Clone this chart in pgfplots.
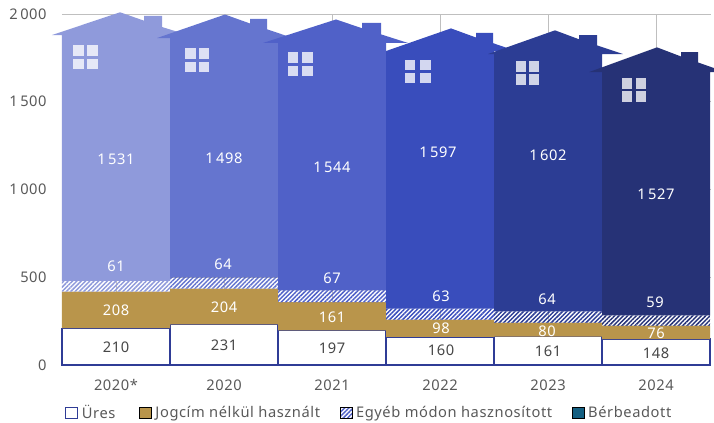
\documentclass[border=0pt]{standalone}
\usepackage{fontspec}
\setmainfont[LetterSpace=4]{Noto Sans}
\usepackage{pgfplots}
\pgfplotsset{compat=1.18}
\usetikzlibrary{patterns.meta}
\definecolor{h1}{HTML}{8F9ADB}
\definecolor{h2}{HTML}{6575CF}
\definecolor{h3}{HTML}{5061C8}
\definecolor{h4}{HTML}{394DBC}
\definecolor{h5}{HTML}{2C3D94}
\definecolor{h6}{HTML}{263276}
\definecolor{gold}{HTML}{B9954B}
\definecolor{navy}{HTML}{2F3C96}
\definecolor{teal}{HTML}{156082}
\definecolor{txt}{HTML}{595959}
\definecolor{grid}{HTML}{D9D9D9}
\newcommand{\lblfont}{\fontsize{11}{13}\selectfont}
\pgfplotsset{
  hatchbar/.style={ybar, bar shift=0pt, bar width=108, stack plots=y, forget plot, draw=none,
    pattern={Lines[angle=45,distance=2.3pt,line width=1.1pt]}, pattern color=#1},
  house/.style={fill=#1, draw=none, forget plot},
  panes/.style={only marks, mark=square*, mark size=3.9pt, forget plot,
    mark options={draw opacity=0, fill=white, fill opacity=0.78}},
  lbl/.style={draw=none, mark=none, forget plot, point meta=explicit symbolic, nodes near coords,
    nodes near coords style={anchor=center, inner sep=0pt, text=#1, font=\lblfont}},
  sq/.style={legend image code/.code={\draw[##1] (0pt,-4.3pt) rectangle (8.6pt,4.3pt);}},
}
\begin{document}
\begin{tikzpicture}
\path[use as bounding box] (-46.5pt,-43.5pt) rectangle (489pt,273.75pt);
\begin{axis}[
  at={(0,0)}, anchor=south west,
  x=0.75pt, y=0.131625pt, clip=false,
  xmin=62, xmax=711, ymin=0, ymax=2000,
  xtick={116,224,332,440,548,656},
  xticklabels={2020*,2020,2021,2022,2023,2024},
  ytick={0,500,1000,1500,2000},
  ymajorgrids, grid style={grid, line width=0.6pt},
  axis line style={draw=none}, major tick length=0pt,
  tick label style={text=txt, font=\lblfont},
  /pgf/number format/assume math mode=true,
  /pgf/number format/1000 sep={\,},
  yticklabel style={xshift=-8pt},
  xticklabel style={yshift=-7.5pt},
  legend style={draw=none, fill=none, at={(axis cs:65,-273)}, anchor=west, legend columns=4,
    text=txt, font=\lblfont, inner sep=0pt, nodes={inner sep=1pt},
    /tikz/column 1/.style={column sep=2pt},
    /tikz/column 3/.style={column sep=2pt},
    /tikz/column 5/.style={column sep=2pt},
    /tikz/column 7/.style={column sep=2pt},
    /tikz/column 2/.style={column sep=17pt},
    /tikz/column 4/.style={column sep=14pt},
    /tikz/column 6/.style={column sep=14pt}},
  legend cell align=left,
]
\addlegendimage{sq, draw=navy, fill=white, line width=0.9pt}
\addlegendentry{Üres}
\addlegendimage{sq, draw=none, fill=gold}
\addlegendentry{Jogcím nélkül használt}
\addlegendimage{sq, draw=none, pattern={Lines[angle=45,distance=2.3pt,line width=1.1pt]}, pattern color=h3}
\addlegendentry{Egyéb módon hasznosított}
\addlegendimage{sq, draw=none, fill=teal}
\addlegendentry{Bérbeadott}

% stacked lower parts
\addplot[ybar, bar shift=0pt, bar width=108, stack plots=y, forget plot, draw=navy, fill=white, line width=0.9pt]
  coordinates {(116,210) (224,231) (332,197) (440,160) (548,161) (656,148)};
\addplot[ybar, bar shift=0pt, bar width=108, stack plots=y, forget plot, draw=none, fill=gold]
  coordinates {(116,208) (224,204) (332,161) (440,98) (548,80) (656,76)};
\addplot[hatchbar=h1] coordinates {(116,61) (224,0) (332,0) (440,0) (548,0) (656,0)};
\addplot[hatchbar=h2] coordinates {(116,0) (224,64) (332,0) (440,0) (548,0) (656,0)};
\addplot[hatchbar=h3] coordinates {(116,0) (224,0) (332,67) (440,0) (548,0) (656,0)};
\addplot[hatchbar=h4] coordinates {(116,0) (224,0) (332,0) (440,63) (548,0) (656,0)};
\addplot[hatchbar=h5] coordinates {(116,0) (224,0) (332,0) (440,0) (548,64) (656,0)};
\addplot[hatchbar=h6] coordinates {(116,0) (224,0) (332,0) (440,0) (548,0) (656,59)};

% houses, the roof peak is the top of the stack
\addplot[house=h1] coordinates {(62,479) (62,1880) (52,1880) (120,2010) (144,1962) (144,1989) (162,1989) (162,1926) (188,1880) (170,1880) (170,479)} -- cycle;
\addplot[house=h2] coordinates {(170,499) (170,1863) (157,1863) (225,1997) (250,1946) (250,1972) (267,1972) (267,1913) (293,1863) (278,1863) (278,499)} -- cycle;
\addplot[house=h3] coordinates {(278,425) (278,1835) (263,1835) (336,1969) (362,1919) (362,1949) (381,1949) (381,1884) (408,1835) (386,1835) (386,425)} -- cycle;
\addplot[house=h4] coordinates {(386,321) (386,1789) (451,1918) (476,1866) (476,1892) (493,1892) (493,1834) (516,1789) (494,1789) (494,321)} -- cycle;
\addplot[house=h5] coordinates {(494,305) (494,1772) (488,1772) (555,1907) (579,1856) (579,1880) (597,1880) (597,1821) (623,1772) (602,1772) (602,305)} -- cycle;
\addplot[house=h6] coordinates {(602,283) (602,1669) (589,1669) (657,1810) (681,1758) (681,1783) (698,1783) (698,1724) (714,1692) (714,1669) (710,1669) (710,283)} -- cycle;

% window panes
\addplot[panes] coordinates {(78.7,1793) (92.3,1793) (78.7,1715) (92.3,1715)};
\addplot[panes] coordinates {(190.3,1776) (203.8,1776) (190.3,1699) (203.8,1699)};
\addplot[panes] coordinates {(293.2,1752) (307.5,1752) (293.2,1675) (307.5,1675)};
\addplot[panes] coordinates {(410,1709) (425.5,1709) (410,1637) (425.5,1637)};
\addplot[panes] coordinates {(520.7,1702) (533.7,1702) (520.7,1626) (533.7,1626)};
\addplot[panes] coordinates {(627.2,1605) (641.2,1605) (627.2,1531) (641.2,1531)};

% value labels
\addplot[lbl=white] coordinates {
  (116,1174)[1\,531] (224,1180)[1\,498] (332,1128)[1\,544] (438,1214)[1\,597] (548,1197)[1\,602] (656,974)[1\,527]
  (116,564)[61] (223,576)[64] (332,496)[67] (441,393)[63] (547,376)[64] (655,359)[59]
  (116,313)[208] (224,330)[204] (332,274)[161] (441,211)[98] (547,194)[80] (656,182)[76]};
\addplot[lbl=txt!80!black] coordinates {
  (116,103)[210] (224,114)[231] (332,97)[197] (441,85)[160] (548,80)[161] (656,68)[148]};
\end{axis}
\end{tikzpicture}
\end{document}
